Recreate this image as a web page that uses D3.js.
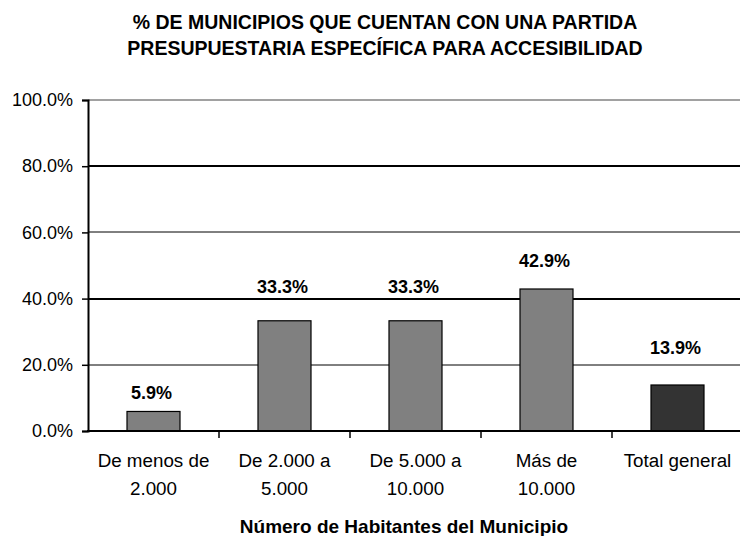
<!DOCTYPE html>
<html>
<head>
<meta charset="utf-8">
<script src="https://cdn.jsdelivr.net/npm/d3@7"></script>
<style>
  body { margin: 0; background: #fff; }
  svg { display: block; font-family: "Liberation Sans", Arial, sans-serif; }
</style>
</head>
<body>
<div></div>
<script>
const width = 740
const height = 536

// data
const categories = ['De menos de\n2.000', 'De 2.000 a\n5.000', 'De 5.000 a\n10.000', 'Más de\n10.000', 'Total general']
const values = [0.059, 0.333, 0.333, 0.429, 0.139]
const tickValues = [0, 0.2, 0.4, 0.6, 0.8, 1.0]
const titleLines = ['% DE MUNICIPIOS QUE CUENTAN CON UNA PARTIDA', 'PRESUPUESTARIA ESPECÍFICA PARA ACCESIBILIDAD']
const xTitle = 'Número de Habitantes del Municipio'

// layout: how far each value label sits above its bar (px)
const labelLift = [12, 28, 28, 22, 31]
const gridWidths = [0, 1, 2, 1, 2, 1.2]

let svg = d3.select('div').append('svg')
    .attr('width', width)
    .attr('height', height)

const plot = { left: 88, right: 743, top: 100, bottom: 431 }

const x = d3.scaleBand()
    .domain(categories)
    .range([plot.left, plot.right])

const y = d3.scaleLinear()
    .domain([0, 1])
    .range([plot.bottom, plot.top])

// title
svg.append('text')
    .attr('x', 385)
    .attr('y', 29)
    .attr('text-anchor', 'middle')
    .style('font-weight', 'bold')
    .style('font-size', '19.5px')
    .selectAll('tspan')
    .data(titleLines)
    .enter()
    .append('tspan')
    .attr('x', 385)
    .attr('dy', (d, i) => i == 0 ? 0 : 26)
    .text(d => d)

// gridlines
svg.append('g')
    .selectAll('line')
    .data(tickValues.slice(1))
    .enter()
    .append('line')
    .attr('x1', plot.left)
    .attr('x2', width)
    .attr('y1', d => Math.round(y(d)))
    .attr('y2', d => Math.round(y(d)))
    .attr('stroke', (d, i) => i == tickValues.length - 2 ? '#444' : '#000')
    .attr('stroke-width', (d, i) => gridWidths[i + 1])

// y axis
const yAxis = svg.append('g')
    .attr('transform', 'translate(' + plot.left + ',0)')
    .call(d3.axisLeft(y).tickValues(tickValues).tickFormat(d3.format('.1%')).tickSize(6).tickPadding(9))
yAxis.select('.domain').attr('stroke', '#000').attr('stroke-width', 2)
yAxis.selectAll('.tick line').attr('stroke', '#000').attr('stroke-width', 1.5)
yAxis.selectAll('.tick text')
    .style('font-size', '18px')
    .style('font-family', '"Liberation Sans", Arial, sans-serif')
    .attr('fill', '#000')

// bars
const barWidth = 53
svg.append('g')
    .selectAll('rect')
    .data(values)
    .enter()
    .append('rect')
    .attr('x', (d, i) => x(categories[i]) + (x.bandwidth() - barWidth) / 2)
    .attr('y', d => y(d))
    .attr('width', barWidth)
    .attr('height', d => y(0) - y(d))
    .attr('fill', (d, i) => i == values.length - 1 ? '#333333' : '#808080')
    .attr('stroke', '#000')
    .attr('stroke-width', 1.2)

// value labels
svg.append('g')
    .selectAll('text')
    .data(values)
    .enter()
    .append('text')
    .attr('x', (d, i) => x(categories[i]) + x.bandwidth() / 2 - 2)
    .attr('y', (d, i) => y(d) - labelLift[i])
    .attr('text-anchor', 'middle')
    .style('font-weight', 'bold')
    .style('font-size', '18px')
    .text(d => d3.format('.1%')(d))

// x axis
svg.append('line')
    .attr('x1', plot.left - 1)
    .attr('x2', width)
    .attr('y1', plot.bottom)
    .attr('y2', plot.bottom)
    .attr('stroke', '#000')
    .attr('stroke-width', 2)

svg.append('g')
    .selectAll('line')
    .data(categories.slice(1))
    .enter()
    .append('line')
    .attr('x1', d => x(d))
    .attr('x2', d => x(d))
    .attr('y1', plot.bottom)
    .attr('y2', plot.bottom + 7)
    .attr('stroke', '#000')
    .attr('stroke-width', 1.5)

// category labels
svg.append('g')
    .selectAll('text')
    .data(categories)
    .enter()
    .append('text')
    .attr('text-anchor', 'middle')
    .attr('y', 467)
    .style('font-size', '18.8px')
    .each(function (d) {
        const t = d3.select(this)
        d.split('\n').forEach((line, i) => {
            t.append('tspan')
                .attr('x', x(d) + x.bandwidth() / 2)
                .attr('dy', i == 0 ? 0 : 28)
                .text(line)
        })
    })

// x title
svg.append('text')
    .attr('x', 404)
    .attr('y', 533)
    .attr('text-anchor', 'middle')
    .style('font-weight', 'bold')
    .style('font-size', '19px')
    .text(xTitle)
</script>
</body>
</html>
